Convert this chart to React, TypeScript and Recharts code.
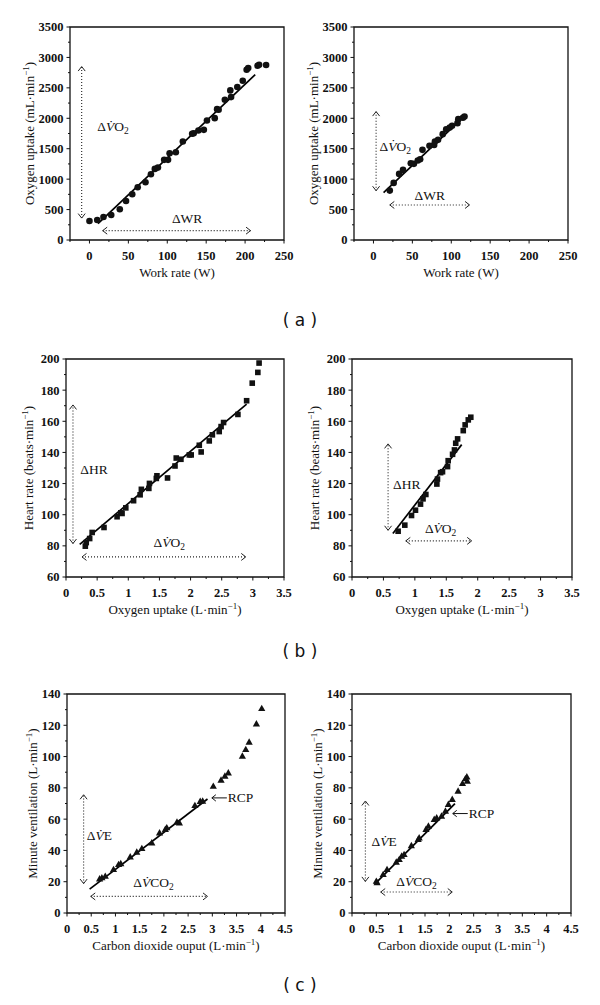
import React from 'react'
import { ScatterChart, Scatter, XAxis, YAxis, ReferenceLine, ReferenceArea, ReferenceDot } from 'recharts'

const SERIF = '"Liberation Serif", "Times New Roman", serif'
const INK = '#111'

// ---- (a) oxygen uptake vs work rate ----
const workRateA1 = [0, 10, 18, 28, 39, 47, 55, 62, 72, 79, 84, 88, 96, 101, 103, 111, 120, 132, 134, 140, 147, 151, 161, 164, 166, 174, 181, 182, 190, 197, 202, 204, 216, 218, 227]
const vo2A1 = [313, 329, 378, 411, 505, 642, 752, 867, 949, 1081, 1168, 1190, 1317, 1317, 1426, 1443, 1618, 1745, 1755, 1800, 1810, 1964, 2002, 2150, 2140, 2304, 2458, 2348, 2513, 2617, 2798, 2825, 2864, 2880, 2875]
const workRateA2 = [21, 26, 33, 38, 48, 52, 57, 60, 63, 72, 78, 79, 83, 89, 93.5, 98, 101, 108, 109, 115, 117]
const vo2A2 = [812, 938, 1086, 1152, 1262, 1251, 1306, 1328, 1481, 1547, 1563, 1618, 1646, 1739, 1821, 1849, 1876, 1920, 1986, 2008, 2030]

// ---- (b) heart rate vs oxygen uptake ----
const vo2B1 = [0.31, 0.325, 0.38, 0.42, 0.61, 0.82, 0.88, 0.9, 0.96, 1.085, 1.19, 1.21, 1.33, 1.34, 1.45, 1.46, 1.63, 1.75, 1.77, 1.845, 1.98, 2.01, 2.14, 2.17, 2.3, 2.35, 2.46, 2.49, 2.53, 2.76, 2.9, 2.99, 3.08, 3.1]
const hrB1 = [79.8, 82.1, 84.7, 88.6, 91.8, 98.7, 101.2, 100.8, 104.4, 109, 112.8, 116.3, 116.9, 120.1, 123.3, 125, 123.6, 131.3, 136.4, 135.6, 138.4, 138.4, 144.6, 140.3, 147.4, 151.3, 153.4, 156.6, 159.2, 164.4, 173.2, 184.5, 191.4, 197.4]
const vo2B2 = [0.734, 0.84, 0.947, 1.01, 1.09, 1.13, 1.175, 1.35, 1.36, 1.41, 1.44, 1.52, 1.53, 1.6, 1.63, 1.65, 1.68, 1.77, 1.8, 1.85, 1.89]
const hrB2 = [89.4, 93.3, 99.5, 102.9, 106.8, 110.2, 113, 119.7, 122.9, 127, 127.6, 130.9, 134.7, 138.8, 141.6, 145.9, 148.7, 154, 157.7, 160.9, 162.6]

// ---- (c) minute ventilation vs CO2 output ----
const vco2C1 = [0.673, 0.72, 0.79, 0.96, 1.065, 1.11, 1.305, 1.44, 1.545, 1.75, 1.91, 2.03, 2.06, 2.27, 2.32, 2.64, 2.75, 2.8, 3.02, 3.18, 3.26, 3.33, 3.62, 3.69, 3.76, 3.91, 4.02]
const veC1 = [21.7, 22.4, 23.4, 27.7, 30.9, 31.5, 35.8, 38.8, 41.1, 44.7, 51.1, 53.3, 54.4, 58, 57.5, 68.6, 71.2, 71.4, 80.9, 84.8, 87.4, 89.5, 100.2, 104.4, 109.1, 120.8, 130.6]
const vco2C2 = [0.5, 0.515, 0.64, 0.72, 0.91, 0.97, 1.02, 1.07, 1.22, 1.36, 1.38, 1.52, 1.57, 1.69, 1.74, 1.84, 1.92, 1.98, 2.06, 2.18, 2.27, 2.33, 2.36, 2.37]
const veC2 = [20.2, 19.2, 24.5, 27.7, 32.4, 34.1, 36.2, 37.3, 43, 46.9, 47.9, 53.3, 55.4, 59.7, 60.7, 61.8, 65, 69.3, 72.5, 77.8, 82.7, 85.7, 86.9, 84.2]

// regression lines (end points)
const fitA1 = [{ x: 11, y: 270 }, { x: 213, y: 2716 }]
const fitA2 = [{ x: 13, y: 779 }, { x: 118, y: 2046 }]
const fitB1 = [{ x: 0.22, y: 81 }, { x: 2.9, y: 171 }]
const fitB2 = [{ x: 0.65, y: 88 }, { x: 1.745, y: 145 }]
const fitC1 = [{ x: 0.467, y: 15.3 }, { x: 2.9, y: 72.9 }]
const fitC2 = [{ x: 0.467, y: 18.5 }, { x: 2.115, y: 69.9 }]

// tick values
const workRateMajor = [0, 50, 100, 150, 200, 250]
const workRateMinor = [-25, 25, 75, 125, 175, 225]
const vo2MlMajor = [0, 500, 1000, 1500, 2000, 2500, 3000, 3500]
const vo2MlMinor = [250, 750, 1250, 1750, 2250, 2750, 3250]
const vo2LMajor = [0, 0.5, 1, 1.5, 2, 2.5, 3, 3.5]
const vo2LMinor = [0.25, 0.75, 1.25, 1.75, 2.25, 2.75, 3.25]
const hrMajor = [60, 80, 100, 120, 140, 160, 180, 200]
const hrMinor = [70, 90, 110, 130, 150, 170, 190]
const vco2Major = [0, 0.5, 1, 1.5, 2, 2.5, 3, 3.5, 4, 4.5]
const vco2Minor = [0.25, 0.75, 1.25, 1.75, 2.25, 2.75, 3.25, 3.75, 4.25]
const veMajor = [0, 20, 40, 60, 80, 100, 120, 140]
const veMinor = [10, 30, 50, 70, 90, 110, 130]

type Pt = { x: number; y: number }
type Arrow = { from: Pt; to: Pt }
type Note = { x: number; y: number; kind: 'dVO2' | 'dWR' | 'dHR' | 'dVE' | 'dVCO2' | 'RCP' }

const zip = (xs: number[], ys: number[]): Pt[] => xs.map((x, i) => ({ x, y: ys[i] }))
const has = (list: number[], v: number) => list.some((m) => Math.abs(m - v) < 1e-6)

const makeXTick = (major: number[]) => (props: any) => {
  const { x, y, payload } = props
  const isMajor = has(major, payload.value)
  return (
    <g>
      <line x1={x} y1={y} x2={x} y2={y + (isMajor ? 3.5 : 2)} stroke={INK} strokeWidth={1} />
      {isMajor && (
        <text x={x} y={y + 11} dy="0.71em" textAnchor="middle" fontFamily={SERIF} fontWeight="bold" fontSize={12.5} fill={INK}>
          {payload.value}
        </text>
      )}
    </g>
  )
}

const makeYTick = (major: number[]) => (props: any) => {
  const { x, y, payload } = props
  const isMajor = has(major, payload.value)
  return (
    <g>
      <line x1={x} y1={y} x2={x - (isMajor ? 3.5 : 2)} y2={y} stroke={INK} strokeWidth={1} />
      {isMajor && (
        <text x={x - 6.5} y={y} dy="0.35em" textAnchor="end" fontFamily={SERIF} fontWeight="bold" fontSize={12.5} fill={INK}>
          {payload.value}
        </text>
      )}
    </g>
  )
}

function DottedArrow(props: any) {
  const { x1, y1, x2, y2 } = props
  const len = Math.hypot(x2 - x1, y2 - y1) || 1
  const ux = (x2 - x1) / len
  const uy = (y2 - y1) / len
  const h = 4.5
  const w = 3.5
  const head = (px: number, py: number, dx: number, dy: number) =>
    `M${px - dx * h - dy * w},${py - dy * h + dx * w} L${px},${py} L${px - dx * h + dy * w},${py - dy * h - dx * w}`
  return (
    <g>
      <line x1={x1} y1={y1} x2={x2} y2={y2} stroke="#222" strokeWidth={1.1} strokeDasharray="1 2" />
      <path d={`${head(x2, y2, ux, uy)} ${head(x1, y1, -ux, -uy)}`} fill="none" stroke="#222" strokeWidth={1} />
    </g>
  )
}

function NoteText({ cx, cy, kind }: { cx: number; cy: number; kind: Note['kind'] }) {
  const common = { x: cx, y: cy, fontFamily: SERIF, fontSize: 13.5, fill: INK }
  if (kind === 'dVO2')
    return (
      <text {...common}>
        Δ<tspan fontStyle="italic">V&#x0307;</tspan>O<tspan fontSize={9.5} dy={3}>2</tspan>
      </text>
    )
  if (kind === 'dVCO2')
    return (
      <text {...common}>
        Δ<tspan fontStyle="italic">V&#x0307;</tspan>CO<tspan fontSize={9.5} dy={3}>2</tspan>
      </text>
    )
  if (kind === 'dVE')
    return (
      <text {...common}>
        Δ<tspan fontStyle="italic">V&#x0307;</tspan>E
      </text>
    )
  if (kind === 'dWR') return <text {...common}>ΔWR</text>
  if (kind === 'dHR') return <text {...common}>ΔHR</text>
  // arrow pointing left at (cx, mid of text), then "RCP"
  const my = cy - 4.5
  return (
    <g>
      <line x1={cx} y1={my} x2={cx + 15} y2={my} stroke={INK} strokeWidth={1} />
      <path d={`M${cx + 4},${my - 3.2} L${cx},${my} L${cx + 4},${my + 3.2}`} fill="none" stroke={INK} strokeWidth={1} />
      <text {...common} x={cx + 16}>RCP</text>
    </g>
  )
}

type PanelProps = {
  left: number
  top: number
  plotW: number
  plotH: number
  data: Pt[]
  marker: 'circle' | 'square' | 'triangle'
  xDomain: [number, number]
  yDomain: [number, number]
  xMajor: number[]
  xMinor: number[]
  yMajor: number[]
  yMinor: number[]
  fit: Pt[]
  arrows: Arrow[]
  notes: Note[]
  xTitle: React.ReactNode
  yTitle: React.ReactNode
  yTitleOffset: number
}

function markerShape(kind: PanelProps['marker']) {
  return (p: any) => {
    const { cx, cy } = p
    if (kind === 'circle') return <circle cx={cx} cy={cy} r={3.3} fill={INK} />
    if (kind === 'square') return <rect x={cx - 2.8} y={cy - 2.8} width={5.6} height={5.6} fill={INK} />
    return <path d={`M${cx},${cy - 4} L${cx + 3.6},${cy + 2.4} L${cx - 3.6},${cy + 2.4} Z`} fill={INK} />
  }
}

function Panel(p: PanelProps) {
  const padL = 60
  const padT = 10
  const width = p.plotW + padL + 10
  const height = p.plotH + padT + 50
  const pos: React.CSSProperties = { position: 'absolute', left: p.left - padL, top: p.top - padT, width, height }
  return (
    <>
      <div style={pos}>
        <ScatterChart width={width} height={height} margin={{ top: padT, right: 10, bottom: 10, left: 10 }}>
          <XAxis
            type="number"
            dataKey="x"
            domain={p.xDomain}
            ticks={[...p.xMajor, ...p.xMinor].sort((a, b) => a - b)}
            interval={0}
            tickSize={0}
            tickMargin={0}
            axisLine={false}
            tickLine={false}
            tick={makeXTick(p.xMajor)}
            height={40}
          />
          <YAxis
            type="number"
            dataKey="y"
            domain={p.yDomain}
            ticks={[...p.yMajor, ...p.yMinor].sort((a, b) => a - b)}
            interval={0}
            tickSize={0}
            tickMargin={0}
            axisLine={false}
            tickLine={false}
            tick={makeYTick(p.yMajor)}
            width={50}
          />
          <ReferenceArea
            x1={p.xDomain[0]}
            x2={p.xDomain[1]}
            y1={p.yDomain[0]}
            y2={p.yDomain[1]}
            fill="none"
            stroke={INK}
            strokeWidth={1.3}
            ifOverflow="visible"
          />
          {p.arrows.map((a, i) => (
            <ReferenceLine key={`a${i}`} segment={[a.from, a.to]} shape={DottedArrow} ifOverflow="visible" />
          ))}
          <ReferenceLine segment={p.fit} stroke="#000" strokeWidth={1.7} ifOverflow="visible" />
          <Scatter data={p.data} isAnimationActive={false} shape={markerShape(p.marker)} />
          {p.notes.map((n, i) => (
            <ReferenceDot
              key={`n${i}`}
              x={n.x}
              y={n.y}
              r={0}
              ifOverflow="visible"
              shape={(d: any) => <NoteText cx={d.cx} cy={d.cy} kind={n.kind} />}
            />
          ))}
        </ScatterChart>
      </div>
      <svg style={{ ...pos, pointerEvents: 'none' }} width={width} height={height}>
        <text
          x={padL + p.plotW / 2}
          y={padT + p.plotH + 37}
          textAnchor="middle"
          fontFamily={SERIF}
          fontSize={13}
          fill={INK}
        >
          {p.xTitle}
        </text>
        <text
          transform={`translate(${padL - p.yTitleOffset},${padT + p.plotH / 2}) rotate(-90)`}
          dy="0.35em"
          textAnchor="middle"
          fontFamily={SERIF}
          fontSize={13}
          fill={INK}
        >
          {p.yTitle}
        </text>
      </svg>
    </>
  )
}

const Unit = ({ pre }: { pre: string }) => (
  <>
    {pre}
    <tspan fontSize={9} dy={-5}>−1</tspan>
    <tspan dy={5}>)</tspan>
  </>
)

const captionStyle = (top: number): React.CSSProperties => ({
  position: 'absolute',
  left: 0,
  top,
  width: 600,
  textAlign: 'center',
  fontFamily: '"DejaVu Sans", Verdana, sans-serif',
  fontSize: 17,
  color: '#111',
  lineHeight: '20px',
})

export default function App() {
  const aX = { xDomain: [-25, 250] as [number, number], xMajor: workRateMajor, xMinor: workRateMinor }
  const aY = { yDomain: [0, 3500] as [number, number], yMajor: vo2MlMajor, yMinor: vo2MlMinor }
  const bX = { xDomain: [0, 3.5] as [number, number], xMajor: vo2LMajor, xMinor: vo2LMinor }
  const bY = { yDomain: [60, 200] as [number, number], yMajor: hrMajor, yMinor: hrMinor }
  const cX = { xDomain: [0, 4.5] as [number, number], xMajor: vco2Major, xMinor: vco2Minor }
  const cY = { yDomain: [0, 140] as [number, number], yMajor: veMajor, yMinor: veMinor }

  const aTitles = { xTitle: 'Work rate (W)', yTitle: <Unit pre="Oxygen uptake (mL·min" />, yTitleOffset: 41 }
  const bTitles = { xTitle: <Unit pre="Oxygen uptake (L·min" />, yTitle: <Unit pre="Heart rate (beats·min" />, yTitleOffset: 38 }
  const cTitles = {
    xTitle: <Unit pre="Carbon dioxide ouput (L·min" />,
    yTitle: <Unit pre="Minute ventilation (L·min" />,
    yTitleOffset: 35,
  }

  return (
    <div style={{ position: 'absolute', left: 0, top: 0, width: 600, height: 1005, background: '#fff' }}>
      <Panel
        left={70}
        top={27}
        plotW={214}
        plotH={213}
        data={zip(workRateA1, vo2A1)}
        marker="circle"
        {...aX}
        {...aY}
        {...aTitles}
        fit={fitA1}
        arrows={[
          { from: { x: -10, y: 360 }, to: { x: -10, y: 2850 } },
          { from: { x: 17, y: 154 }, to: { x: 207, y: 154 } },
        ]}
        notes={[
          { x: 10, y: 1783, kind: 'dVO2' },
          { x: 106, y: 274, kind: 'dWR' },
        ]}
      />
      <Panel
        left={354}
        top={27}
        plotW={214}
        plotH={213}
        data={zip(workRateA2, vo2A2)}
        marker="circle"
        {...aX}
        {...aY}
        {...aTitles}
        fit={fitA2}
        arrows={[
          { from: { x: 3.4, y: 810 }, to: { x: 3.4, y: 2110 } },
          { from: { x: 21, y: 576 }, to: { x: 123.5, y: 576 } },
        ]}
        notes={[
          { x: 7.7, y: 1470, kind: 'dVO2' },
          { x: 52.7, y: 658, kind: 'dWR' },
        ]}
      />
      <div style={captionStyle(310)}>( a )</div>

      <Panel
        left={66}
        top={359}
        plotW={218}
        plotH={218}
        data={zip(vo2B1, hrB1)}
        marker="square"
        {...bX}
        {...bY}
        {...bTitles}
        fit={fitB1}
        arrows={[
          { from: { x: 0.112, y: 81.5 }, to: { x: 0.112, y: 170.5 } },
          { from: { x: 0.257, y: 72.9 }, to: { x: 2.886, y: 72.9 } },
        ]}
        notes={[
          { x: 0.23, y: 126.1, kind: 'dHR' },
          { x: 1.405, y: 79.3, kind: 'dVO2' },
        ]}
      />
      <Panel
        left={352}
        top={359}
        plotW={220}
        plotH={218}
        data={zip(vo2B2, hrB2)}
        marker="square"
        {...bX}
        {...bY}
        {...bTitles}
        fit={fitB2}
        arrows={[
          { from: { x: 0.574, y: 90 }, to: { x: 0.574, y: 145.5 } },
          { from: { x: 0.856, y: 83.2 }, to: { x: 1.904, y: 83.2 } },
        ]}
        notes={[
          { x: 0.654, y: 116.3, kind: 'dHR' },
          { x: 1.16, y: 88.3, kind: 'dVO2' },
        ]}
      />
      <div style={captionStyle(641)}>( b )</div>

      <Panel
        left={67}
        top={694}
        plotW={218}
        plotH={219}
        data={zip(vco2C1, veC1)}
        marker="triangle"
        {...cX}
        {...cY}
        {...cTitles}
        fit={fitC1}
        arrows={[
          { from: { x: 0.343, y: 18.8 }, to: { x: 0.343, y: 75.6 } },
          { from: { x: 0.49, y: 10.6 }, to: { x: 2.9, y: 10.6 } },
        ]}
        notes={[
          { x: 0.41, y: 46.9, kind: 'dVE' },
          { x: 1.37, y: 16.4, kind: 'dVCO2' },
          { x: 2.99, y: 70.7, kind: 'RCP' },
        ]}
      />
      <Panel
        left={352}
        top={694}
        plotW={219}
        plotH={219}
        data={zip(vco2C2, veC2)}
        marker="triangle"
        {...cX}
        {...cY}
        {...cTitles}
        fit={fitC2}
        arrows={[
          { from: { x: 0.275, y: 20.2 }, to: { x: 0.275, y: 71.6 } },
          { from: { x: 0.59, y: 13.4 }, to: { x: 2.06, y: 13.4 } },
        ]}
        notes={[
          { x: 0.4, y: 42.6, kind: 'dVE' },
          { x: 0.91, y: 17, kind: 'dVCO2' },
          { x: 2.07, y: 60.7, kind: 'RCP' },
        ]}
      />
      <div style={captionStyle(975)}>( c )</div>
    </div>
  )
}
